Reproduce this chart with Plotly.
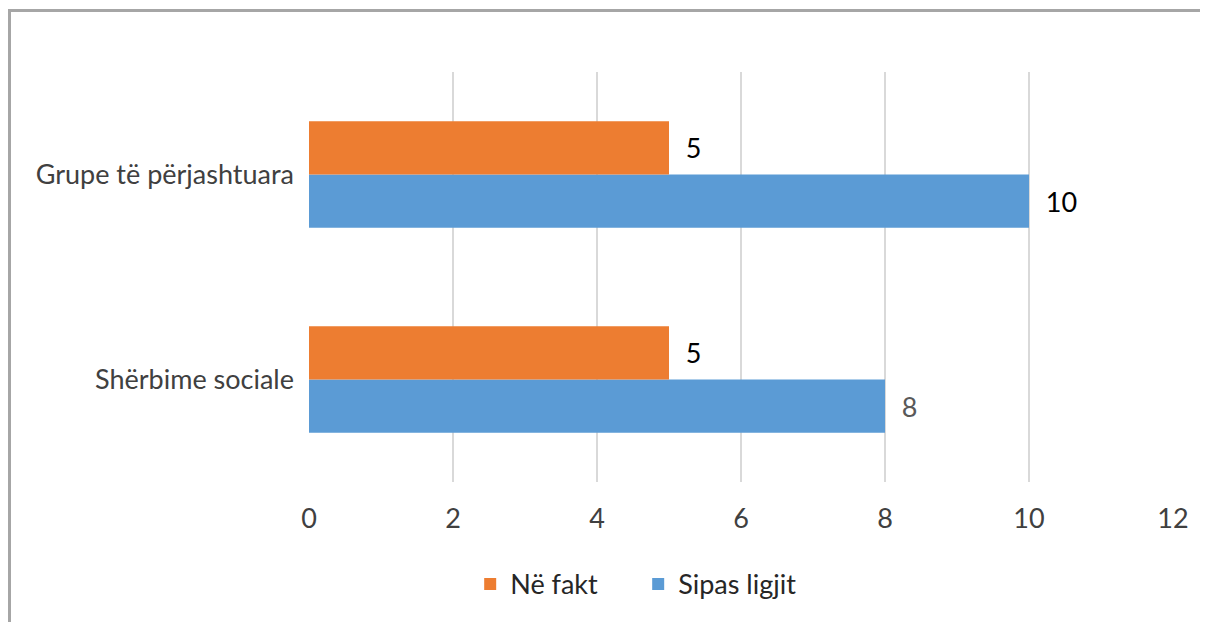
import plotly.graph_objects as go

categories = ["Shërbime sociale", "Grupe të përjashtuara"]
sipas_ligjit = [8, 10]
ne_fakt = [5, 5]
x_ticks = [0, 2, 4, 6, 8, 10, 12]

W, H = 1208, 622
L, R, T, B = 301, 43, 64, 148
pw, ph = W - L - R, H - T - B

FONT = "Lato, 'Open Sans', sans-serif"
FS = 27

fig = go.Figure()
fig.add_trace(go.Bar(
    y=categories, x=sipas_ligjit, orientation="h", name="Sipas ligjit",
    marker=dict(color="#5B9BD5", line=dict(width=0)),
    text=sipas_ligjit, texttemplate="  %{x}", textposition="outside",
    textfont=dict(size=FS, color=["#595959", "#000000"], family=FONT),
    cliponaxis=False,
))
fig.add_trace(go.Bar(
    y=categories, x=ne_fakt, orientation="h", name="Në fakt",
    marker=dict(color="#ED7D31", line=dict(width=0)),
    text=ne_fakt, texttemplate="  %{x}", textposition="outside",
    textfont=dict(size=FS, color="#000000", family=FONT),
    cliponaxis=False,
))

def px_x(p):
    return (p - L) / pw

def px_y(p):
    return (H - B - p) / ph

fig.update_layout(
    width=W, height=H,
    margin=dict(l=L, r=R, t=T, b=B),
    paper_bgcolor="white", plot_bgcolor="white",
    barmode="group", bargap=0.48, bargroupgap=0,
    font=dict(family=FONT, size=FS, color="#404040"),
    showlegend=True,
    legend=dict(orientation="h", x=0.381, xanchor="center", y=-0.19, yanchor="top",
                traceorder="reversed", font=dict(size=FS, color="#262626"),
                itemwidth=30, entrywidth=123),
    xaxis=dict(range=[0, 12], tickvals=x_ticks, showgrid=True, gridcolor="#D9D9D9",
               gridwidth=1.5, zeroline=False, showline=False, ticks="",
               tickfont=dict(size=FS, color="#404040"), ticklabelstandoff=18),
    yaxis=dict(type="category", categoryorder="array", categoryarray=categories,
               showgrid=False, zeroline=False, showline=False, ticks="",
               tickfont=dict(size=FS, color="#404040"), ticklabelstandoff=14),
    shapes=[
        dict(type="line", xref="paper", yref="paper", x0=px_x(0), x1=px_x(W),
             y0=px_y(2.5), y1=px_y(2.5), line=dict(color="#A6A6A6", width=3)),
        dict(type="line", xref="paper", yref="paper", x0=px_x(1.5), x1=px_x(1.5),
             y0=px_y(1), y1=px_y(H), line=dict(color="#A6A6A6", width=3)),
    ],
)

fig.write_html("out.html")
